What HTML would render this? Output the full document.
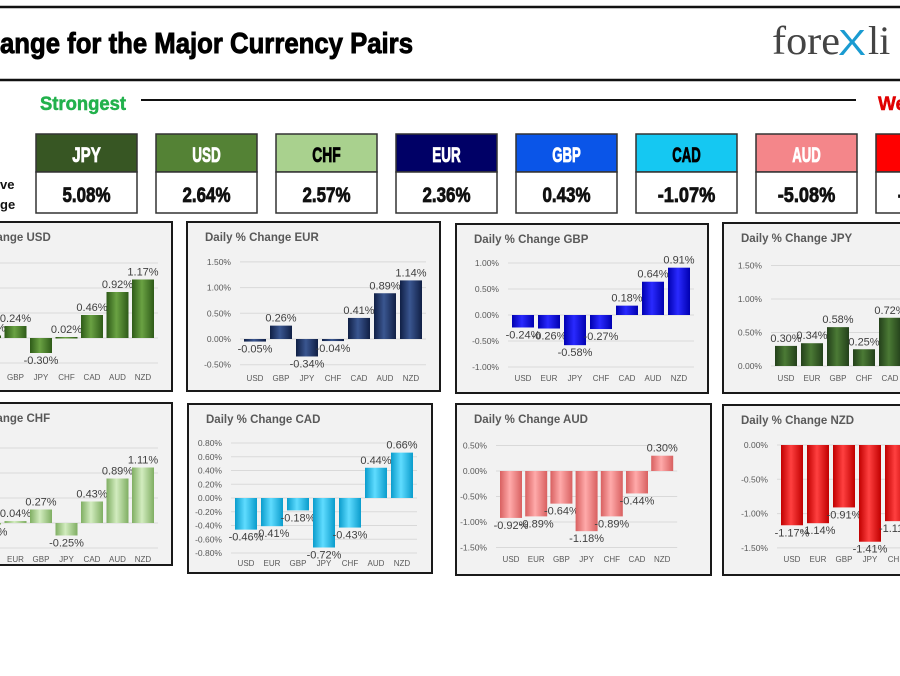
<!DOCTYPE html>
<html><head><meta charset="utf-8"><style>
html,body{margin:0;padding:0;background:#fff;width:900px;height:676px;overflow:hidden}
svg{display:block}
</style></head><body>
<svg id="s" width="900" height="676" xmlns="http://www.w3.org/2000/svg" font-family="Liberation Sans, sans-serif">
<defs></defs>
<line x1="0" y1="7" x2="900" y2="7" stroke="#111" stroke-width="2.5"/>
<line x1="0" y1="80" x2="900" y2="80" stroke="#111" stroke-width="2.5"/>
<text x="0" y="53" font-size="29" font-weight="bold" fill="#000" stroke="#000" stroke-width="0.9" textLength="413" lengthAdjust="spacingAndGlyphs">ange for the Major Currency Pairs</text>
<text x="772" y="54" font-family="Liberation Serif, serif" font-size="40" fill="#444" textLength="68" lengthAdjust="spacingAndGlyphs">fore</text>
<text x="838" y="55" font-family="Liberation Sans, sans-serif" font-size="36" fill="#1a9bd1" textLength="28" lengthAdjust="spacingAndGlyphs">X</text>
<text x="868" y="54" font-family="Liberation Serif, serif" font-size="40" fill="#444">li</text>
<text x="40" y="110" font-size="19" font-weight="bold" fill="#22b14c" stroke="#22b14c" stroke-width="0.5" textLength="86" lengthAdjust="spacingAndGlyphs">Strongest</text>
<line x1="141" y1="100" x2="856" y2="100" stroke="#111" stroke-width="2"/>
<text x="878" y="110" font-size="19" font-weight="bold" fill="#e00000" stroke="#e00000" stroke-width="0.5">We</text>
<text x="0" y="189" font-size="13" font-weight="bold" fill="#111">ve</text>
<text x="0" y="209" font-size="13" font-weight="bold" fill="#111">ge</text>
<g id="boxes"></g>
<g id="charts"></g>
</svg>
<script>
var NS="http://www.w3.org/2000/svg";
function el(t,a,txt,p){var e=document.createElementNS(NS,t);for(var k in a)e.setAttribute(k,a[k]);if(txt!=null)e.textContent=txt;(p||document.getElementById('s')).appendChild(e);return e;}
var defs=document.querySelector('defs');
var bx=document.getElementById('boxes');
var B=[["JPY","5.08%","#375623","#fff"],["USD","2.64%","#548235","#fff"],["CHF","2.57%","#a9d18e","#000"],["EUR","2.36%","#000066","#fff"],["GBP","0.43%","#0a55e8","#fff"],["CAD","-1.07%","#15c8f2","#000"],["AUD","-5.08%","#f4868a","#fff"],["NZD","-1.09%","#ff0000","#fff"]];
B.forEach(function(b,i){var x=36+i*120;
el('rect',{x:x,y:134,width:101,height:38,fill:b[2],stroke:'#333','stroke-width':1.5},null,bx);
el('rect',{x:x,y:172,width:101,height:41,fill:'#fff',stroke:'#333','stroke-width':1.5},null,bx);
el('text',{x:x+50.5,y:162,'text-anchor':'middle','font-size':21,'font-weight':'bold',fill:b[3],stroke:b[3],'stroke-width':0.8,textLength:b[0].length*9.5,lengthAdjust:'spacingAndGlyphs'},b[0],bx);
el('text',{x:x+50.5,y:202,'text-anchor':'middle','font-size':21,'font-weight':'bold',fill:'#111',stroke:'#111','stroke-width':0.8,textLength:b[1].length*9.6,lengthAdjust:'spacingAndGlyphs'},b[1],bx);
});
var ch=document.getElementById('charts');
var gi=0;
function grad(edge,mid){var id='g'+(gi++);var g=el('linearGradient',{id:id,x1:0,y1:0,x2:1,y2:0},null,defs);
el('stop',{offset:'0',"stop-color":edge},null,g);el('stop',{offset:'0.45',"stop-color":mid},null,g);el('stop',{offset:'1',"stop-color":edge},null,g);return 'url(#'+id+')';}
function chart(o){
el('rect',{x:o.x,y:o.y,width:o.w,height:o.h,fill:'#f2f2f2',stroke:'#1a1a1a','stroke-width':2},null,ch);
el('text',{x:o.x+18,y:o.y+19,'font-size':11.5,'font-weight':'bold',fill:'#595959'},o.t,ch);
var lx=o.f-15,rx=o.f+6*o.s+15;
o.ticks.forEach(function(t){var y=o.z-t*o.p;
el('line',{x1:lx,y1:y,x2:rx,y2:y,stroke:'#d9d9d9','stroke-width':1},null,ch);
el('text',{x:lx-9,y:y+3,'text-anchor':'end','font-size':8.5,fill:'#595959'},t.toFixed(2)+'%',ch);});
var fill=grad(o.c[0],o.c[1]);
o.v.forEach(function(v,i){var cx=o.f+i*o.s;var y1=o.z,y2=o.z-v*o.p;var top=Math.min(y1,y2),h=Math.max(Math.abs(y2-y1),1.5);
el('rect',{x:cx-11,y:top,width:22,height:h,fill:fill},null,ch);
var ly=v>=0?top-4:top+h+11;
el('text',{x:cx,y:ly,'text-anchor':'middle','font-size':11,fill:'#404040'},v.toFixed(2)+'%',ch);
el('text',{x:cx,y:o.cy,'text-anchor':'middle','font-size':8,fill:'#595959'},o.k[i],ch);});
}
function rng(a,b,s){var r=[];for(var t=a;t<=b+1e-9;t+=s)r.push(Math.round(t*100)/100);return r;}
chart({x:-81,y:222,w:253,h:169,t:'Daily % Change USD',z:338,p:50,ticks:rng(-0.5,1.5,0.5),f:-10,s:25.5,cy:380,k:['EUR','GBP','JPY','CHF','CAD','AUD','NZD'],v:[0.05,0.24,-0.30,0.02,0.46,0.92,1.17],c:['#2e5a18','#6aa243']});
chart({x:187,y:222,w:253,h:169,t:'Daily % Change EUR',z:339,p:51.4,ticks:rng(-0.5,1.5,0.5),f:255,s:26,cy:381,k:['USD','GBP','JPY','CHF','CAD','AUD','NZD'],v:[-0.05,0.26,-0.34,-0.04,0.41,0.89,1.14],c:['#101f45','#3a5690']});
chart({x:456,y:224,w:252,h:169,t:'Daily % Change GBP',z:315,p:52,ticks:rng(-1,1,0.5),f:523,s:26,cy:381,k:['USD','EUR','JPY','CHF','CAD','AUD','NZD'],v:[-0.24,-0.26,-0.58,-0.27,0.18,0.64,0.91],c:['#0000b0','#2a2aff']});
chart({x:723,y:223,w:253,h:170,t:'Daily % Change JPY',z:366,p:67,ticks:rng(0,1.5,0.5),f:786,s:26,cy:381,k:['USD','EUR','GBP','CHF','CAD','AUD','NZD'],v:[0.30,0.34,0.58,0.25,0.72,1.18,1.41],c:['#23401a','#4b7a35']});
chart({x:-81,y:403,w:253,h:162,t:'Daily % Change CHF',z:523,p:50,ticks:rng(-0.5,1.5,0.5),f:-10,s:25.5,cy:562,k:['USD','EUR','GBP','JPY','CAD','AUD','NZD'],v:[-0.02,0.04,0.27,-0.25,0.43,0.89,1.11],c:['#7fae62','#d2ecbf']});
chart({x:188,y:404,w:244,h:169,t:'Daily % Change CAD',z:498,p:68.75,ticks:rng(-0.8,0.8,0.2),f:246,s:26,cy:566,k:['USD','EUR','GBP','JPY','CHF','AUD','NZD'],v:[-0.46,-0.41,-0.18,-0.72,-0.43,0.44,0.66],c:['#0a9ccc','#5fdcff']});
chart({x:456,y:404,w:255,h:171,t:'Daily % Change AUD',z:471,p:51,ticks:rng(-1.5,0.5,0.5),f:511,s:25.2,cy:562,k:['USD','EUR','GBP','JPY','CHF','CAD','NZD'],v:[-0.92,-0.89,-0.64,-1.18,-0.89,-0.44,0.30],c:['#d86060','#ffaaaa']});
chart({x:723,y:405,w:253,h:170,t:'Daily % Change NZD',z:445,p:68.6,ticks:rng(-1.5,0,0.5),f:792,s:26,cy:562,k:['USD','EUR','GBP','JPY','CHF','CAD','AUD'],v:[-1.17,-1.14,-0.91,-1.41,-1.11,-0.66,-0.30],c:['#c00000','#ff4040']});
</script>
</body></html>
